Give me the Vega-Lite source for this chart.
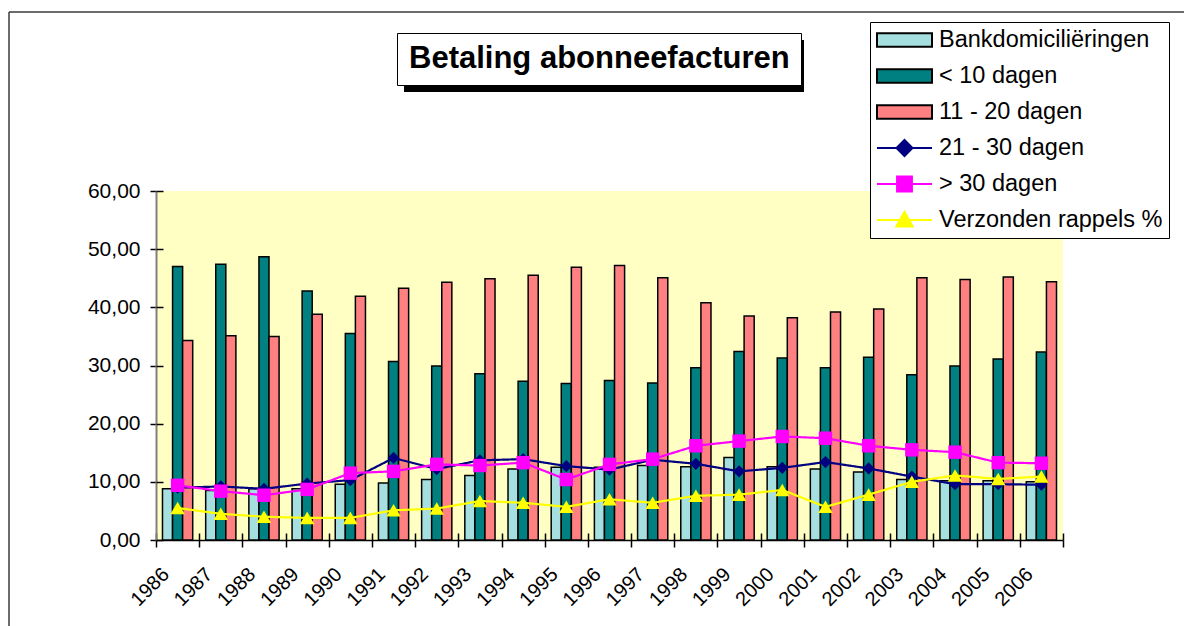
{
  "$schema": "https://vega.github.io/schema/vega-lite/v6.json",
  "width": 907,
  "height": 349,
  "autosize": {"type": "none"},
  "padding": {"left": 156, "top": 191, "right": 121, "bottom": 86},
  "background": "white",
  "config": {
    "font": "Liberation Sans",
    "view": {"fill": "#FFFFC4", "stroke": null},
    "axis": {"grid": false, "labelFont": "Liberation Sans", "labelColor": "black", "tickColor": "black", "title": null},
    "legend": {"labelFont": "Liberation Sans", "labelColor": "black"}
  },
  "data": {"values": [
    {"year":1986,"series":"Bankdomiciliëringen","value":8.8},{"year":1987,"series":"Bankdomiciliëringen","value":8.5},{"year":1988,"series":"Bankdomiciliëringen","value":8.8},{"year":1989,"series":"Bankdomiciliëringen","value":8.8},{"year":1990,"series":"Bankdomiciliëringen","value":9.6},{"year":1991,"series":"Bankdomiciliëringen","value":9.8},{"year":1992,"series":"Bankdomiciliëringen","value":10.4},{"year":1993,"series":"Bankdomiciliëringen","value":11.1},{"year":1994,"series":"Bankdomiciliëringen","value":12.2},{"year":1995,"series":"Bankdomiciliëringen","value":12.5},{"year":1996,"series":"Bankdomiciliëringen","value":12.5},{"year":1997,"series":"Bankdomiciliëringen","value":12.8},{"year":1998,"series":"Bankdomiciliëringen","value":12.6},{"year":1999,"series":"Bankdomiciliëringen","value":14.2},{"year":2000,"series":"Bankdomiciliëringen","value":12.6},{"year":2001,"series":"Bankdomiciliëringen","value":12.2},{"year":2002,"series":"Bankdomiciliëringen","value":11.7},{"year":2003,"series":"Bankdomiciliëringen","value":10.4},{"year":2004,"series":"Bankdomiciliëringen","value":10.2},{"year":2005,"series":"Bankdomiciliëringen","value":10.2},{"year":2006,"series":"Bankdomiciliëringen","value":10.0},
    {"year":1986,"series":"< 10 dagen","value":47.0},{"year":1987,"series":"< 10 dagen","value":47.4},{"year":1988,"series":"< 10 dagen","value":48.7},{"year":1989,"series":"< 10 dagen","value":42.8},{"year":1990,"series":"< 10 dagen","value":35.5},{"year":1991,"series":"< 10 dagen","value":30.7},{"year":1992,"series":"< 10 dagen","value":29.9},{"year":1993,"series":"< 10 dagen","value":28.6},{"year":1994,"series":"< 10 dagen","value":27.3},{"year":1995,"series":"< 10 dagen","value":26.9},{"year":1996,"series":"< 10 dagen","value":27.4},{"year":1997,"series":"< 10 dagen","value":27.0},{"year":1998,"series":"< 10 dagen","value":29.6},{"year":1999,"series":"< 10 dagen","value":32.4},{"year":2000,"series":"< 10 dagen","value":31.3},{"year":2001,"series":"< 10 dagen","value":29.6},{"year":2002,"series":"< 10 dagen","value":31.4},{"year":2003,"series":"< 10 dagen","value":28.4},{"year":2004,"series":"< 10 dagen","value":29.9},{"year":2005,"series":"< 10 dagen","value":31.1},{"year":2006,"series":"< 10 dagen","value":32.3},
    {"year":1986,"series":"11 - 20 dagen","value":34.3},{"year":1987,"series":"11 - 20 dagen","value":35.1},{"year":1988,"series":"11 - 20 dagen","value":35.0},{"year":1989,"series":"11 - 20 dagen","value":38.8},{"year":1990,"series":"11 - 20 dagen","value":41.9},{"year":1991,"series":"11 - 20 dagen","value":43.3},{"year":1992,"series":"11 - 20 dagen","value":44.3},{"year":1993,"series":"11 - 20 dagen","value":44.9},{"year":1994,"series":"11 - 20 dagen","value":45.5},{"year":1995,"series":"11 - 20 dagen","value":46.9},{"year":1996,"series":"11 - 20 dagen","value":47.2},{"year":1997,"series":"11 - 20 dagen","value":45.1},{"year":1998,"series":"11 - 20 dagen","value":40.8},{"year":1999,"series":"11 - 20 dagen","value":38.5},{"year":2000,"series":"11 - 20 dagen","value":38.2},{"year":2001,"series":"11 - 20 dagen","value":39.2},{"year":2002,"series":"11 - 20 dagen","value":39.7},{"year":2003,"series":"11 - 20 dagen","value":45.1},{"year":2004,"series":"11 - 20 dagen","value":44.8},{"year":2005,"series":"11 - 20 dagen","value":45.2},{"year":2006,"series":"11 - 20 dagen","value":44.4},
    {"year":1986,"series":"21 - 30 dagen","value":9.0},{"year":1987,"series":"21 - 30 dagen","value":9.2},{"year":1988,"series":"21 - 30 dagen","value":8.8},{"year":1989,"series":"21 - 30 dagen","value":9.7},{"year":1990,"series":"21 - 30 dagen","value":10.3},{"year":1991,"series":"21 - 30 dagen","value":14.1},{"year":1992,"series":"21 - 30 dagen","value":12.2},{"year":1993,"series":"21 - 30 dagen","value":13.7},{"year":1994,"series":"21 - 30 dagen","value":13.9},{"year":1995,"series":"21 - 30 dagen","value":12.7},{"year":1996,"series":"21 - 30 dagen","value":12.1},{"year":1997,"series":"21 - 30 dagen","value":13.8},{"year":1998,"series":"21 - 30 dagen","value":13.1},{"year":1999,"series":"21 - 30 dagen","value":11.8},{"year":2000,"series":"21 - 30 dagen","value":12.4},{"year":2001,"series":"21 - 30 dagen","value":13.4},{"year":2002,"series":"21 - 30 dagen","value":12.3},{"year":2003,"series":"21 - 30 dagen","value":10.9},{"year":2004,"series":"21 - 30 dagen","value":9.6},{"year":2005,"series":"21 - 30 dagen","value":9.6},{"year":2006,"series":"21 - 30 dagen","value":9.5},
    {"year":1986,"series":"> 30 dagen","value":9.4},{"year":1987,"series":"> 30 dagen","value":8.4},{"year":1988,"series":"> 30 dagen","value":7.7},{"year":1989,"series":"> 30 dagen","value":8.7},{"year":1990,"series":"> 30 dagen","value":11.5},{"year":1991,"series":"> 30 dagen","value":11.8},{"year":1992,"series":"> 30 dagen","value":13.0},{"year":1993,"series":"> 30 dagen","value":12.8},{"year":1994,"series":"> 30 dagen","value":13.3},{"year":1995,"series":"> 30 dagen","value":10.4},{"year":1996,"series":"> 30 dagen","value":13.0},{"year":1997,"series":"> 30 dagen","value":13.9},{"year":1998,"series":"> 30 dagen","value":16.2},{"year":1999,"series":"> 30 dagen","value":17.0},{"year":2000,"series":"> 30 dagen","value":17.8},{"year":2001,"series":"> 30 dagen","value":17.5},{"year":2002,"series":"> 30 dagen","value":16.2},{"year":2003,"series":"> 30 dagen","value":15.5},{"year":2004,"series":"> 30 dagen","value":15.1},{"year":2005,"series":"> 30 dagen","value":13.3},{"year":2006,"series":"> 30 dagen","value":13.2},
    {"year":1986,"series":"Verzonden rappels %","value":5.5},{"year":1987,"series":"Verzonden rappels %","value":4.5},{"year":1988,"series":"Verzonden rappels %","value":4.0},{"year":1989,"series":"Verzonden rappels %","value":3.8},{"year":1990,"series":"Verzonden rappels %","value":3.8},{"year":1991,"series":"Verzonden rappels %","value":5.1},{"year":1992,"series":"Verzonden rappels %","value":5.4},{"year":1993,"series":"Verzonden rappels %","value":6.7},{"year":1994,"series":"Verzonden rappels %","value":6.4},{"year":1995,"series":"Verzonden rappels %","value":5.7},{"year":1996,"series":"Verzonden rappels %","value":7.0},{"year":1997,"series":"Verzonden rappels %","value":6.4},{"year":1998,"series":"Verzonden rappels %","value":7.6},{"year":1999,"series":"Verzonden rappels %","value":7.8},{"year":2000,"series":"Verzonden rappels %","value":8.6},{"year":2001,"series":"Verzonden rappels %","value":5.7},{"year":2002,"series":"Verzonden rappels %","value":7.8},{"year":2003,"series":"Verzonden rappels %","value":10.0},{"year":2004,"series":"Verzonden rappels %","value":11.1},{"year":2005,"series":"Verzonden rappels %","value":10.5},{"year":2006,"series":"Verzonden rappels %","value":10.9}
  ]},
  "layer": [
    {
      "transform": [{"filter": "indexof(['Bankdomiciliëringen','< 10 dagen','11 - 20 dagen'], datum.series) >= 0"}],
      "mark": {"type": "bar", "stroke": "black", "strokeWidth": 1.5},
      "encoding": {
        "x": {"field": "year", "type": "ordinal", "scale": {"paddingInner": 0, "paddingOuter": 0},
          "axis": {"orient": "bottom", "labelAngle": -45, "labelAlign": "right", "labelBaseline": "middle", "labelFontSize": 20, "labelPadding": 24, "labelOffset": -12, "tickSize": 7, "tickWidth": 1.5, "tickBand": "extent", "domainColor": "black", "domainWidth": 1.5}},
        "xOffset": {"field": "series", "type": "nominal", "scale": {"domain": ["Bankdomiciliëringen", "< 10 dagen", "11 - 20 dagen"], "paddingInner": 0, "paddingOuter": 0.644}},
        "y": {"field": "value", "type": "quantitative", "scale": {"domain": [0, 60], "nice": false},
          "axis": {"orient": "left", "values": [0, 10, 20, 30, 40, 50, 60], "format": ".2f", "labelExpr": "replace(datum.label, '.', ',')", "labelFontSize": 21, "labelPadding": 10, "tickSize": 6, "tickWidth": 1.5, "domainColor": "#808080", "domainWidth": 2}},
        "fill": {"field": "series", "type": "nominal",
          "scale": {"domain": ["Bankdomiciliëringen", "< 10 dagen", "11 - 20 dagen", "21 - 30 dagen", "> 30 dagen", "Verzonden rappels %"],
                    "range": ["#A6DFDF", "#008080", "#FF8080", "#000080", "#FF00FF", "#FFFF00"]},
          "legend": {
            "orient": "none", "legendX": 714, "legendY": -169,
            "title": null, "strokeColor": "black", "fillColor": "white", "padding": 6,
            "symbolSize": 3025, "symbolStrokeWidth": 2, "clipHeight": 24, "rowPadding": 12,
            "labelFontSize": 23.5, "labelOffset": 6, "labelLimit": 400, "zindex": 1,
            "encoding": {"symbols": {
              "shape": {"value": {"expr": "datum.value === '21 - 30 dagen' ? 'M-1,0H1M-0.29,0L0,-0.29L0.29,0L0,0.29Z' : datum.value === '> 30 dagen' ? 'M-1,0H1M-0.27,-0.27H0.27V0.27H-0.27Z' : datum.value === 'Verzonden rappels %' ? 'M-1,0H1M0,-0.3L0.3,0.24H-0.3Z' : 'M-1,-0.245H1V0.245H-1Z'"}},
              "stroke": {"value": {"expr": "indexof(['21 - 30 dagen','> 30 dagen','Verzonden rappels %'], datum.value) >= 0 ? scale('fill', datum.value) : 'black'"}},
              "opacity": {"value": 1},
              "strokeWidth": {"value": 2}
            }}
          }},
        "strokeDash": {"datum": "Betaling abonneefacturen", "type": "nominal", "scale": {"range": [[1, 0]]},
          "legend": {"orient": "none", "legendX": -148, "legendY": -780, "title": null,
            "padding": 0, "symbolSize": 5760000, "symbolStrokeWidth": 1.5, "labelExpr": "''", "labelOffset": 0, "zindex": 0,
            "encoding": {"symbols": {
              "shape": {"value": "M-1,-0.5H1V0.5H-1Z"},
              "fill": {"value": "transparent"},
              "stroke": {"value": "#3C3C3C"},
              "strokeWidth": {"value": 1.5},
              "opacity": {"value": 1}
            }}}}
      }
    },
    {
      "transform": [{"filter": "indexof(['21 - 30 dagen','> 30 dagen','Verzonden rappels %'], datum.series) >= 0"}],
      "mark": {"type": "line", "strokeWidth": 2.2},
      "encoding": {
        "x": {"field": "year", "type": "ordinal",
          "axis": {"orient": "bottom", "labels": false, "domain": false, "tickSize": -7, "tickWidth": 1.5, "tickBand": "extent"}},
        "y": {"field": "value", "type": "quantitative",
          "axis": {"orient": "left", "values": [0, 10, 20, 30, 40, 50, 60], "labels": false, "domain": false, "tickSize": -7, "tickWidth": 1.5}},
        "stroke": {"field": "series", "type": "nominal",
          "scale": {"domain": ["21 - 30 dagen", "> 30 dagen", "Verzonden rappels %"],
                    "range": ["#000080", "#FF00FF", "#FFFF00"]},
          "legend": null},
        "strokeDash": {"datum": "Betaling abonneefacturen", "type": "nominal", "scale": {"range": [[1, 0]]},
          "legend": {"orient": "none", "legendX": 241, "legendY": -158, "title": null,
            "symbolSize": 0, "symbolOpacity": 0, "labelOffset": -30, "clipHeight": 30,
            "labelFontSize": 31, "labelFontWeight": "bold", "labelLimit": 600,
            "padding": 11, "strokeColor": "black", "fillColor": "white", "zindex": 3}}
      }
    },
    {
      "transform": [{"filter": "indexof(['21 - 30 dagen','> 30 dagen','Verzonden rappels %'], datum.series) >= 0"}],
      "mark": {"type": "point", "filled": true, "opacity": 1},
      "encoding": {
        "x": {"field": "year", "type": "ordinal", "axis": null},
        "y": {"field": "value", "type": "quantitative", "axis": null},
        "fill": {"field": "series", "type": "nominal"},
        "shape": {"field": "series", "type": "nominal", "scale": {"domain": ["21 - 30 dagen", "> 30 dagen", "Verzonden rappels %"], "range": ["diamond", "square", "triangle-up"]}, "legend": null},
        "size": {"field": "series", "type": "ordinal", "scale": {"domain": ["21 - 30 dagen", "> 30 dagen", "Verzonden rappels %"], "range": [150, 210, 230]}, "legend": null},
        "strokeDash": {"datum": "Betaling abonneefacturen", "type": "nominal", "scale": {"range": [[1, 0]]},
          "legend": {"orient": "none", "legendX": 248, "legendY": -325, "title": null,
            "padding": 0, "symbolSize": 160000, "symbolStrokeWidth": 0, "labelExpr": "''", "labelOffset": 0, "zindex": 2,
            "encoding": {"symbols": {
              "shape": {"value": "M-1,-0.13H1V0.13H-1Z"},
              "fill": {"value": "black"},
              "stroke": {"value": "transparent"},
              "strokeWidth": {"value": 0},
              "opacity": {"value": 1}
            }}}}
      }
    }
  ],
  "resolve": {
    "axis": {"x": "independent", "y": "independent"},
    "scale": {"strokeDash": "independent"},
    "legend": {"strokeDash": "independent"}
  }
}
